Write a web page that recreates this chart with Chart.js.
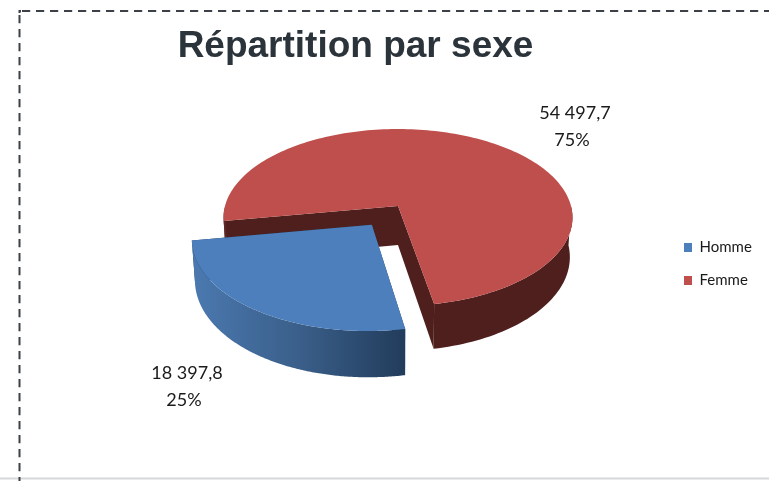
<!DOCTYPE html>
<html lang="fr">
<head>
<meta charset="utf-8">
<title>Répartition par sexe</title>
<style>html,body{margin:0;padding:0;background:#fff}canvas{display:block}</style>
<script src="https://cdn.jsdelivr.net/npm/chart.js@4/dist/chart.umd.min.js"></script>
</head>
<body>
<canvas id="c" width="769" height="481"></canvas>
<script>
const categories = ['Homme', 'Femme'];
const values = [18397.8, 54497.7];
const valueLabels = ['18 397,8', '54 497,7'];
const percentLabels = ['25%', '75%'];
const explode = [0.257, 0];
const topColors = ['#4C7FBB', '#BE4F4C'];
const chartTitle = 'Répartition par sexe';

const view = {ax: 398, ay: 206, rx: 173, ry: 87, k: 0.13, depth: 39, shrink: 0.985};
const labelAnchors = [{x: 187, y: 373}, {x: 575, y: 113}];
const labelFont = '18px Lato';

function project(u, v, lower) {
  const s = 1 / (1 - view.k * v);
  const f = lower ? view.shrink : 1;
  return {
    x: view.ax + u * view.rx * s * f,
    y: view.ay + v * view.ry * s + (lower ? view.depth * s : 0)
  };
}

function polygon(ctx, pts, paint) {
  ctx.beginPath();
  pts.forEach((p, n) => n ? ctx.lineTo(p.x, p.y) : ctx.moveTo(p.x, p.y));
  ctx.closePath();
  ctx.fillStyle = paint;
  ctx.fill();
}

function sideGradient(ctx, index, rim) {
  if (index === 0) {
    const xs = rim.map(p => p.x);
    const g = ctx.createLinearGradient(Math.min(...xs), 0, Math.max(...xs), 0);
    g.addColorStop(0, '#4B79B0');
    g.addColorStop(0.5, '#3A5F8A');
    g.addColorStop(1, '#223C5B');
    return g;
  }
  const endX = rim[0].x;
  const g = ctx.createLinearGradient(endX, 0, endX + 40, 0);
  g.addColorStop(0, '#5E2826');
  g.addColorStop(1, '#4F1F1D');
  return g;
}

const pie3d = {
  id: 'pie3d',
  beforeDraw(chart) {
    const ctx = chart.ctx;
    ctx.save();
    ctx.fillStyle = '#fff';
    ctx.fillRect(0, 0, chart.width, chart.height);
    ctx.strokeStyle = '#D4D8DA'; ctx.lineWidth = 2;
    ctx.beginPath(); ctx.moveTo(0, 478.5); ctx.lineTo(chart.width, 478.5); ctx.stroke();
    ctx.strokeStyle = '#3C4147'; ctx.lineWidth = 2;
    ctx.setLineDash([8.2, 5.8]);
    ctx.beginPath(); ctx.moveTo(22, 11); ctx.lineTo(chart.width, 11); ctx.stroke();
    ctx.beginPath(); ctx.moveTo(19.5, 15); ctx.lineTo(19.5, 481); ctx.stroke();
    ctx.setLineDash([]);
    ctx.beginPath(); ctx.moveTo(19.5, 13); ctx.lineTo(19.5, 11); ctx.lineTo(21, 11); ctx.stroke();
    ctx.restore();
  },
  beforeDatasetsDraw(chart) {
    const ctx = chart.ctx;
    const arcs = chart.getDatasetMeta(0).data;
    ctx.save();
    [1, 0].forEach(i => {
      const el = arcs[i];
      const mid = (el.startAngle + el.endAngle) / 2;
      const ou = Math.cos(mid) * explode[i], ov = Math.sin(mid) * explode[i];
      const steps = 180, plane = [], front = [];
      for (let n = 0; n <= steps; n++) {
        const a = el.startAngle + (el.endAngle - el.startAngle) * n / steps;
        plane.push([ou + Math.cos(a), ov + Math.sin(a)]);
        front.push(Math.sin(a) >= 0);
      }
      const top = plane.map(p => project(p[0], p[1], false));
      const low = plane.map(p => project(p[0], p[1], true));
      const apexT = project(ou, ov, false), apexL = project(ou, ov, true);
      const wall = i === 0 ? '#223C5B' : '#4F1F1D';
      polygon(ctx, [apexT, top[0], low[0], apexL], wall);
      polygon(ctx, [apexT, top[steps], low[steps], apexL], wall);
      const paint = sideGradient(ctx, i, top);
      let run = [];
      const flush = () => {
        if (run.length > 1) {
          polygon(ctx, run.map(n => top[n]).concat(run.slice().reverse().map(n => low[n])), paint);
        }
        run = [];
      };
      for (let n = 0; n <= steps; n++) {
        if (front[n]) run.push(n); else flush();
      }
      flush();
      polygon(ctx, [apexT].concat(top), topColors[i]);
    });
    ctx.font = labelFont;
    ctx.fillStyle = '#1A1A1A';
    ctx.textAlign = 'center';
    ctx.textBaseline = 'middle';
    values.forEach((v, i) => {
      ctx.fillText(valueLabels[i], labelAnchors[i].x, labelAnchors[i].y);
      ctx.fillText(percentLabels[i], labelAnchors[i].x - 3, labelAnchors[i].y + 27);
    });
    ctx.restore();
    return false;
  },
  afterLayout(chart) {
    chart.titleBlock.left = -29;
    chart.titleBlock.right = 740;
    chart.titleBlock.top = 25;
    const lg = chart.legend;
    lg.left = 684 - lg.options.labels.padding;
    lg.top = 222;
    lg.bottom = 481;
  }
};

new Chart(document.getElementById('c'), {
  type: 'pie',
  data: {
    labels: categories,
    datasets: [{data: values, backgroundColor: topColors, borderWidth: 0}]
  },
  options: {
    responsive: false,
    animation: false,
    rotation: 169.5,
    layout: {padding: 0},
    plugins: {
      title: {
        display: true,
        text: chartTitle,
        color: '#2B333B',
        font: {family: '"Liberation Sans"', size: 37, weight: 'bold'},
        padding: 0
      },
      legend: {
        position: 'right',
        align: 'start',
        labels: {
          boxWidth: 8, boxHeight: 9, padding: 18,
          color: '#1A1A1A',
          font: {family: 'Lato', size: 15, lineHeight: 1.2}
        }
      },
      tooltip: {enabled: false}
    }
  },
  plugins: [pie3d]
});
</script>
</body>
</html>
